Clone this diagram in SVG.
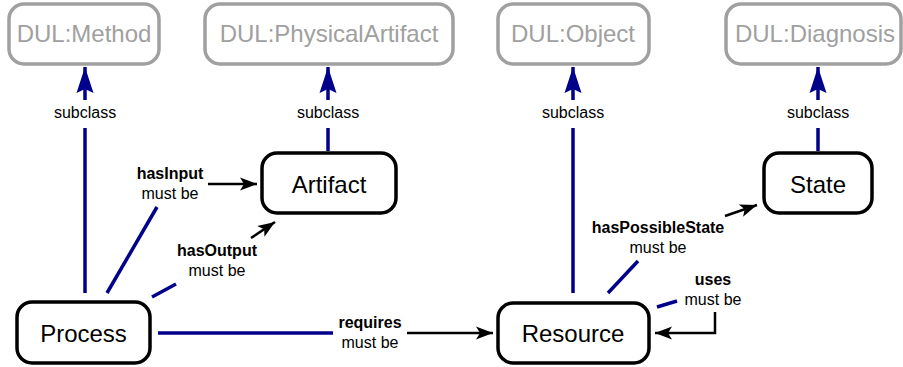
<svg xmlns="http://www.w3.org/2000/svg" width="903" height="367" viewBox="0 0 903 367">
<style>
.bg{fill:#fff}
.ext rect{fill:#fff;stroke:#a0a0a0;stroke-width:3.5}
.ext text{fill:#a0a0a0;font-family:"Liberation Sans",Arial,sans-serif;font-size:24px;text-anchor:middle}
.cls rect{fill:#fff;stroke:#000;stroke-width:3.5}
.cls text{fill:#000;font-family:"Liberation Sans",Arial,sans-serif;font-size:24px;text-anchor:middle}
.blue{stroke:#00008b;stroke-width:3.5;fill:none}
.blk{stroke:#000;stroke-width:2.5;fill:none}
.lbl{font-family:"Liberation Sans",Arial,sans-serif;font-size:16px;text-anchor:middle;fill:#000}
.b{font-weight:bold}
</style>
<defs>
<marker id="sub" viewBox="-27 -10 28 20" refX="0" refY="0" markerWidth="28" markerHeight="20" markerUnits="userSpaceOnUse" orient="auto">
<path d="M0,0 L-26,-8.5 L-22,0 L-26,8.5 Z" fill="#00008b"/>
</marker>
<marker id="arr" viewBox="-18 -8 19 16" refX="0" refY="0" markerWidth="19" markerHeight="16" markerUnits="userSpaceOnUse" orient="auto">
<path d="M0,0 L-17,-6.5 L-13,0 L-17,6.5 Z" fill="#000"/>
</marker>
</defs>
<rect class="bg" x="0" y="0" width="903" height="367"/>
<g id="connectors">
<line class="blue" x1="85" y1="293" x2="85" y2="128"/>
<line class="blue" x1="85" y1="100" x2="85" y2="67" marker-end="url(#sub)"/>
<text class="lbl" x="85" y="118">subclass</text>
<line class="blue" x1="328" y1="151" x2="328" y2="128"/>
<line class="blue" x1="328" y1="100" x2="328" y2="67" marker-end="url(#sub)"/>
<text class="lbl" x="328" y="118">subclass</text>
<line class="blue" x1="573" y1="293" x2="573" y2="128"/>
<line class="blue" x1="573" y1="100" x2="573" y2="67" marker-end="url(#sub)"/>
<text class="lbl" x="573" y="118">subclass</text>
<line class="blue" x1="818" y1="151" x2="818" y2="128"/>
<line class="blue" x1="818" y1="100" x2="818" y2="67" marker-end="url(#sub)"/>
<text class="lbl" x="818" y="118">subclass</text>
<line class="blue" x1="107" y1="293" x2="157" y2="207"/>
<text class="lbl b" x="170" y="179">hasInput</text>
<text class="lbl" x="170" y="199">must be</text>
<line class="blk" x1="208" y1="184" x2="257" y2="184" marker-end="url(#arr)"/>
<line class="blue" x1="152" y1="297" x2="176" y2="284"/>
<text class="lbl b" x="217" y="256">hasOutput</text>
<text class="lbl" x="217" y="276">must be</text>
<line class="blk" x1="251" y1="238" x2="275" y2="222" marker-end="url(#arr)"/>
<line class="blue" x1="158" y1="333" x2="333" y2="333"/>
<text class="lbl b" x="370" y="328">requires</text>
<text class="lbl" x="370" y="348">must be</text>
<line class="blk" x1="407" y1="333" x2="493" y2="333" marker-end="url(#arr)"/>
<line class="blue" x1="608" y1="293" x2="638" y2="261"/>
<text class="lbl b" x="658" y="233">hasPossibleState</text>
<text class="lbl" x="658" y="253">must be</text>
<line class="blk" x1="725" y1="216" x2="757" y2="205" marker-end="url(#arr)"/>
<line class="blue" x1="657" y1="307" x2="677" y2="301"/>
<text class="lbl b" x="713" y="285">uses</text>
<text class="lbl" x="713" y="305">must be</text>
<polyline class="blk" points="715,312 715,333 655,333" marker-end="url(#arr)"/>
</g>
<g id="DUL_Method" class="ext"><rect x="9" y="4" width="150" height="60" rx="15"/><text x="84" y="42">DUL:Method</text></g>
<g id="DUL_PhysicalArtifact" class="ext"><rect x="205" y="4" width="248" height="60" rx="15"/><text x="329" y="42">DUL:PhysicalArtifact</text></g>
<g id="DUL_Object" class="ext"><rect x="498" y="4" width="151" height="60" rx="15"/><text x="573" y="42">DUL:Object</text></g>
<g id="DUL_Diagnosis" class="ext"><rect x="726" y="4" width="175" height="60" rx="15"/><text x="815" y="42">DUL:Diagnosis</text></g>
<g id="Artifact" class="cls"><rect x="262" y="153" width="134" height="60" rx="15"/><text x="329" y="193">Artifact</text></g>
<g id="State" class="cls"><rect x="764" y="153" width="108" height="60" rx="15"/><text x="818" y="193">State</text></g>
<g id="Process" class="cls"><rect x="17" y="302" width="133" height="61" rx="15"/><text x="83.5" y="342">Process</text></g>
<g id="Resource" class="cls"><rect x="498" y="303" width="151" height="60" rx="15"/><text x="573" y="342">Resource</text></g>
</svg>
